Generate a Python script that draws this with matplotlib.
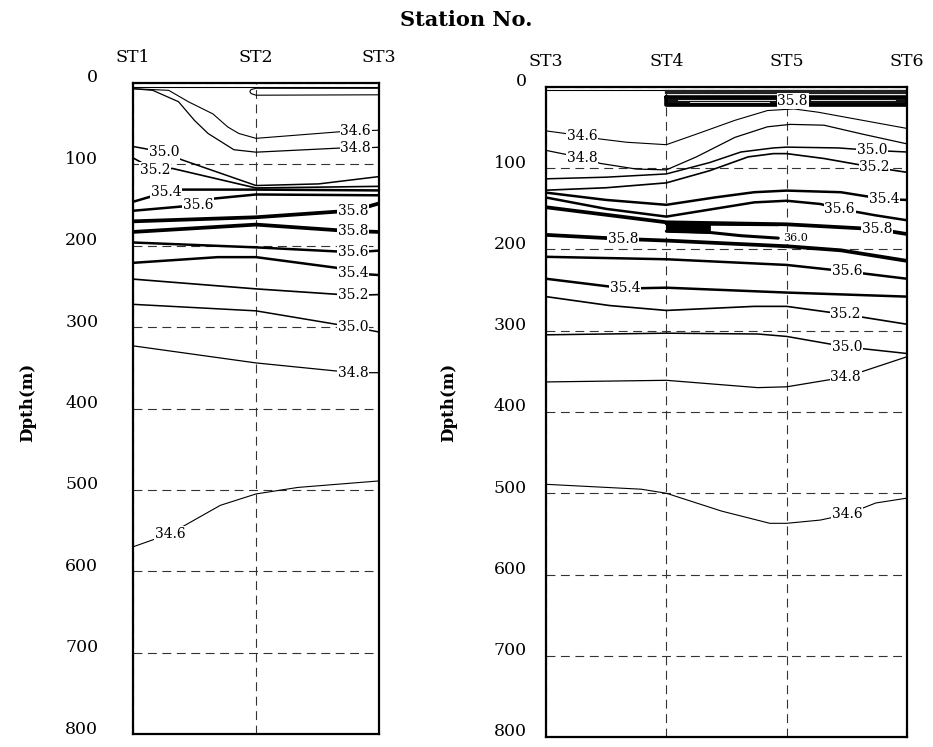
import matplotlib
matplotlib.use('Agg')
import matplotlib.pyplot as plt
import matplotlib.transforms as mtransforms

plt.rcParams['font.family'] = ['DejaVu Serif']

# ---------------- data ----------------
left_stations = ['ST1', 'ST2', 'ST3']
left_station_x = [1, 2, 3]
right_stations = ['ST3', 'ST4', 'ST5', 'ST6']
right_station_x = [3, 4, 5, 6]
depth_ticks = [0, 100, 200, 300, 400, 500, 600, 700, 800]

# Left section (ST1-ST3): isolines as station-position / depth lists
L_surf_x = [1.0, 3.0]
L_surf_d = [4.5, 4.5]
L_lens_x = [3.0, 2.0, 1.96, 1.95, 1.96, 2.0, 3.0]
L_lens_d = [6.5, 6.5, 8, 10.5, 13, 15, 14.5]
L_346a_x = [1.0, 1.29, 1.45, 1.65, 1.77, 1.86, 2.0, 2.675, 2.81, 3.0]
L_346a_d = [7, 9, 23, 38, 54, 62, 68, 60, 59, 58]
L_348a_x = [1.0, 1.16, 1.37, 1.5, 1.61, 1.82, 2.0, 2.675, 2.81, 3.0]
L_348a_d = [7, 9, 23, 46, 62, 82, 85, 80, 80, 79]
L_350a_x = [1.0, 1.25, 1.39, 2.0, 2.51, 3.0]
L_350a_d = [78, 85, 94, 126, 124, 115]
L_352a_x = [1.0, 1.18, 1.32, 2.0, 3.0]
L_352a_d = [92, 107, 105, 129, 127]
L_354a_x = [1.0, 1.27, 1.39, 2.0, 3.0]
L_354a_d = [146, 134, 131, 131, 132]
L_356a_x = [1.0, 1.53, 1.66, 2.0, 3.0]
L_356a_d = [157, 150, 142, 137, 138]
L_358a_x = [1.0, 2.0, 2.67, 2.79, 3.0]
L_358a_d = [170, 165, 158, 157, 148]
L_358b_x = [1.0, 2.0, 2.67, 2.79, 3.0]
L_358b_d = [183, 174, 181, 182, 183]
L_356b_x = [1.0, 2.0, 2.79, 3.0]
L_356b_d = [196, 202, 208, 206]
L_354b_x = [1.0, 1.69, 2.0, 2.65, 2.79, 3.0]
L_354b_d = [221, 214, 214, 227, 234, 236]
L_352b_x = [1.0, 2.0, 2.79, 3.0]
L_352b_d = [241, 253, 261, 260]
L_350b_x = [1.0, 2.0, 2.79, 3.0]
L_350b_d = [272, 280, 300, 306]
L_348b_x = [1.0, 2.0, 2.79, 3.0]
L_348b_d = [323, 344, 356, 356]
L_346b_x = [1.0, 1.3, 1.71, 2.0, 2.34, 3.0]
L_346b_d = [570, 554, 519, 505, 497, 489]

# label positions (station-position, depth, text) for the left section
L_labels = [(2.81, 59, '34.6'), (2.81, 80, '34.8'), (1.25, 85, '35.0'),
            (1.18, 107, '35.2'), (1.27, 134, '35.4'), (1.53, 150, '35.6'),
            (2.79, 157, '35.8'), (2.79, 182, '35.8'), (2.79, 208, '35.6'),
            (2.79, 234, '35.4'), (2.79, 261, '35.2'), (2.79, 300, '35.0'),
            (2.79, 356, '34.8'), (1.3, 554, '34.6')]

# Right section (ST3-ST6)
R_surf_x = [3.0, 6.0]
R_surf_d = [4, 4]
R_band1_x = [4.0, 6.0]
R_band1_d = [5.5, 5.5]
R_band2_x = [4.0, 6.0]
R_band2_d = [8, 8]
R_lens_x = [4.0, 6.0, 6.0, 4.0, 4.0]
R_lens_d = [12.5, 12.5, 22, 22, 12.5]
R_streak1_x = [4.1, 4.9]
R_streak1_d = [15.5, 15.5]
R_streak2_x = [4.2, 4.85]
R_streak2_d = [19, 19]
R_streak3_x = [5.2, 5.9]
R_streak3_d = [16, 16]
R_346a_x = [3.0, 3.30, 3.45, 3.67, 4.0, 4.25, 4.57, 4.84, 5.06, 5.26, 5.63, 6.0]
R_346a_d = [54, 60, 64, 68, 71, 58, 41, 29, 27, 31, 41, 51]
R_348a_x = [3.0, 3.30, 3.45, 3.75, 4.0, 4.25, 4.57, 4.84, 5.03, 5.31, 5.63, 6.0]
R_348a_d = [78, 87, 94, 101, 102, 86, 62, 49, 46, 47, 58, 70]
R_350a_x = [3.0, 3.5, 4.0, 4.36, 4.62, 4.89, 5.0, 5.43, 5.71, 6.0]
R_350a_d = [113, 111, 107, 93, 80, 75, 74, 75, 78, 80]
R_352a_x = [3.0, 3.5, 4.0, 4.36, 4.68, 4.89, 5.0, 5.31, 5.73, 6.0]
R_352a_d = [127, 124, 118, 103, 86, 82, 82, 88, 99, 105]
R_354a_x = [3.0, 3.5, 4.0, 4.4, 4.73, 5.0, 5.45, 5.81, 6.0]
R_354a_d = [130, 139, 145, 136, 129.5, 127.5, 129.5, 138, 139]
R_356a_x = [3.0, 3.5, 4.0, 4.73, 5.0, 5.28, 5.44, 5.74, 6.0]
R_356a_d = [136, 150, 159.5, 142, 140, 144, 150, 158, 164]
R_358a_x = [3.0, 3.54, 4.0, 5.0, 5.75, 6.0]
R_358a_d = [148, 158, 166.5, 169, 175, 181]
R_360_top_x = [4.0, 4.5, 4.93]
R_360_top_d = [168.5, 169, 169.5]
R_360_bot_x = [4.0, 4.36, 4.62, 4.93]
R_360_bot_d = [177.5, 179, 183, 186]
R_358b_x = [3.0, 3.64, 4.0, 5.0, 5.45, 6.0]
R_358b_d = [182, 187, 189, 196, 201, 214]
R_356b_x = [3.0, 4.0, 5.0, 5.50, 6.0]
R_356b_d = [209, 212, 219, 227, 236]
R_354b_x = [3.0, 3.66, 4.0, 5.0, 6.0]
R_354b_d = [236, 248, 247, 253, 258]
R_352b_x = [3.0, 3.53, 4.0, 4.73, 5.0, 5.49, 6.0]
R_352b_d = [258, 269, 275, 270, 270, 280, 292]
R_350b_x = [3.0, 4.0, 4.76, 5.0, 5.5, 6.0]
R_350b_d = [305, 303, 304, 307, 320, 328]
R_348b_x = [3.0, 4.0, 4.76, 5.0, 5.49, 6.0]
R_348b_d = [363, 361, 370, 369, 357, 332]
R_346b_x = [3.0, 3.79, 4.0, 4.46, 4.86, 5.0, 5.28, 5.5, 5.74, 6.0]
R_346b_d = [489, 495, 500, 522, 537, 537, 533, 526, 512, 506]

R_labels = [(3.30, 60, '34.6'), (3.30, 87, '34.8'), (5.71, 78, '35.0'),
            (5.73, 99, '35.2'), (5.81, 138, '35.4'), (5.44, 150, '35.6'),
            (5.75, 175, '35.8'), (3.64, 187, '35.8'), (5.50, 227, '35.6'),
            (3.66, 248, '35.4'), (5.49, 280, '35.2'), (5.5, 320, '35.0'),
            (5.49, 357, '34.8'), (5.5, 526, '34.6'), (5.05, 17, '35.8')]
R_small_labels = [(5.07, 186, '36.0')]

# ---------------- styling helpers ----------------
LW = {'34.6': 0.8, '34.8': 0.9, '35.0': 1.1, '35.2': 1.2,
      '35.4': 1.8, '35.6': 1.8, '35.8': 2.7, '36.0': 2.2}

fig = plt.figure(figsize=(9.33, 7.47), dpi=100)
W, H = 933.0, 747.0
axL = fig.add_axes([133 / W, 1 - 734 / H, 246 / W, (734 - 83) / H])
axR = fig.add_axes([546 / W, 1 - 737 / H, 361 / W, (737 - 87) / H])


def setup(ax, xs, names, xlim, pad_left):
    ax.set_xlim(*xlim)
    ax.set_ylim(800, 0)
    ax.set_yticks(depth_ticks)
    ax.set_yticklabels([str(t) for t in depth_ticks], fontsize=12.5)
    ax.xaxis.tick_top()
    ax.set_xticks(xs)
    ax.set_xticklabels(names, fontsize=12.5)
    ax.tick_params(axis='x', length=0, pad=12)
    ax.tick_params(axis='y', length=0, pad=pad_left)
    ax.grid(True, ls=(0, (8, 5)), color='#333333', lw=0.8)
    for s in ax.spines.values():
        s.set_linewidth(1.6)
        s.set_zorder(6)
    off = mtransforms.ScaledTranslation(0, 0.07, fig.dpi_scale_trans)
    for lab in ax.get_yticklabels():
        lab.set_transform(lab.get_transform() + off)


setup(axL, left_station_x, left_stations, (1, 3), 25)
setup(axR, right_station_x, right_stations, (3, 6), 14)


def iso(ax, x, d, level):
    ax.plot(x, d, color='black', lw=LW[level], solid_joinstyle='round',
            solid_capstyle='round', zorder=3)


def put_labels(ax, labels, size=10):
    for x, d, t in labels:
        ax.text(x, d, t, ha='center', va='center', fontsize=size, zorder=5,
                bbox=dict(boxstyle='square,pad=0.05', fc='white', ec='none'))


# left section
axL.plot(L_surf_x, L_surf_d, color='black', lw=0.8, zorder=3)
axL.plot(L_lens_x, L_lens_d, color='black', lw=0.8, zorder=3)
iso(axL, L_346a_x, L_346a_d, '34.6')
iso(axL, L_348a_x, L_348a_d, '34.8')
iso(axL, L_350a_x, L_350a_d, '35.0')
iso(axL, L_352a_x, L_352a_d, '35.2')
iso(axL, L_354a_x, L_354a_d, '35.4')
iso(axL, L_356a_x, L_356a_d, '35.6')
iso(axL, L_358a_x, L_358a_d, '35.8')
iso(axL, L_358b_x, L_358b_d, '35.8')
iso(axL, L_356b_x, L_356b_d, '35.6')
iso(axL, L_354b_x, L_354b_d, '35.4')
iso(axL, L_352b_x, L_352b_d, '35.2')
iso(axL, L_350b_x, L_350b_d, '35.0')
iso(axL, L_348b_x, L_348b_d, '34.8')
iso(axL, L_346b_x, L_346b_d, '34.6')
put_labels(axL, L_labels)

# right section
axR.plot(R_surf_x, R_surf_d, color='black', lw=0.8, zorder=3)
axR.plot(R_band1_x, R_band1_d, color='#222222', lw=1.6, zorder=3)
axR.plot(R_band2_x, R_band2_d, color='#222222', lw=1.6, zorder=3)
axR.fill(R_lens_x, R_lens_d, color='#111111', zorder=3)
axR.plot(R_lens_x, R_lens_d, color='black', lw=2.6, solid_joinstyle='round',
         solid_capstyle='round', zorder=3)
for sx, sd in [(R_streak1_x, R_streak1_d), (R_streak2_x, R_streak2_d),
               (R_streak3_x, R_streak3_d)]:
    axR.plot(sx, sd, color='white', lw=0.6, zorder=3.5)
iso(axR, R_346a_x, R_346a_d, '34.6')
iso(axR, R_348a_x, R_348a_d, '34.8')
iso(axR, R_350a_x, R_350a_d, '35.0')
iso(axR, R_352a_x, R_352a_d, '35.2')
iso(axR, R_354a_x, R_354a_d, '35.4')
iso(axR, R_356a_x, R_356a_d, '35.6')
iso(axR, R_358a_x, R_358a_d, '35.8')
iso(axR, R_360_top_x, R_360_top_d, '36.0')
iso(axR, R_360_bot_x, R_360_bot_d, '36.0')
axR.fill_between(R_360_bot_x[:2], R_360_top_d[0], R_360_bot_d[:2], color='black', zorder=3)
iso(axR, R_358b_x, R_358b_d, '35.8')
iso(axR, R_356b_x, R_356b_d, '35.6')
iso(axR, R_354b_x, R_354b_d, '35.4')
iso(axR, R_352b_x, R_352b_d, '35.2')
iso(axR, R_350b_x, R_350b_d, '35.0')
iso(axR, R_348b_x, R_348b_d, '34.8')
iso(axR, R_346b_x, R_346b_d, '34.6')
put_labels(axR, R_labels)
put_labels(axR, R_small_labels, size=8)

fig.text(466 / W, 1 - 20 / H, 'Station No.', ha='center', va='center',
         fontsize=15, fontweight='bold')
fig.text(28 / W, 1 - 402 / H, 'Dpth(m)', ha='center', va='center',
         rotation=90, fontsize=12, fontweight='bold')
fig.text(449 / W, 1 - 402 / H, 'Dpth(m)', ha='center', va='center',
         rotation=90, fontsize=12, fontweight='bold')

fig.savefig('out.png', dpi=100)
